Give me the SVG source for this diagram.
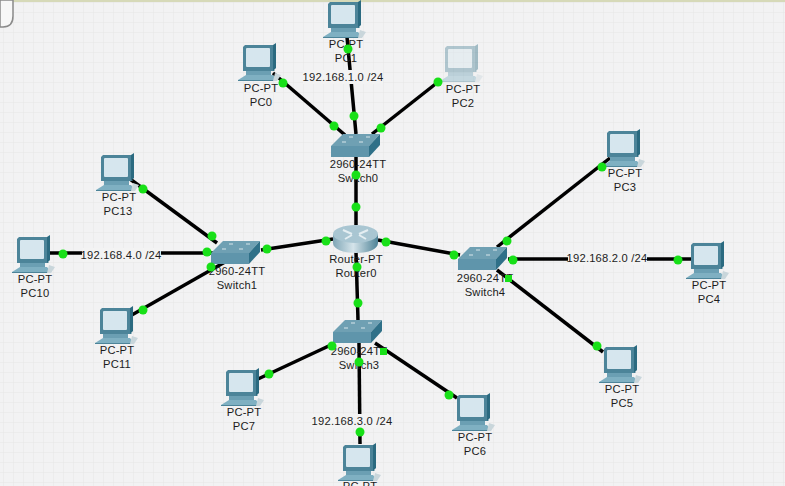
<svg xmlns="http://www.w3.org/2000/svg" width="785" height="486" viewBox="0 0 785 486">
<style>
text{font-family:"Liberation Sans",Arial,sans-serif;font-size:11.2px;letter-spacing:.2px;fill:#1c1c1c;text-anchor:middle}
.l{stroke:#000;stroke-width:3.5;fill:none;stroke-linecap:butt}
.d{fill:#18e018}
.b{fill:#f3f3f3}
</style>
<defs>
<pattern id="grid" width="10" height="10" patternUnits="userSpaceOnUse" x="3" y="2">
<rect width="10" height="10" fill="#f2f2f3"/>
<path d="M0 0H10M0 0V10" stroke="#e6e6e6" stroke-width="1" fill="none"/>
</pattern>
<linearGradient id="rg" x1="0" x2="1" y1="0" y2="0">
<stop offset="0" stop-color="#7fa6b6"/><stop offset=".45" stop-color="#d5e4ea"/><stop offset="1" stop-color="#4d8296"/>
</linearGradient>
<g id="pc">
<path d="M0 2L2 0H30V24L32 26H0Z" fill="#4c8499"/>
<path d="M30 0L33 -2V23L30 26Z" fill="#2b6a80"/>
<rect x="3" y="3" width="24" height="19" rx="1" fill="#d6e6ee"/>
<path d="M3 26H28V30H3Z" fill="#6b9fb3"/>
<path d="M3 30H30L34 35H-5Z" fill="#7fb0c2"/>
<path d="M-5 35H34V36H-5Z" fill="#4c8499"/>
<path d="M32 28L38 30L34 36H30Z" fill="#c9d6db"/>
</g>
<g id="sw">
<path d="M12 0H49L38 12H0Z" fill="#6fa0b3"/>
<path d="M0 12H38V23H0Z" fill="#5f95ab"/>
<path d="M38 12L49 0V11L38 23Z" fill="#2f7088"/>
<path d="M11 8h4M28 8h4M18 3h4M35 3h4" stroke="#d8e6eb" stroke-width="1"/>
</g>
</defs>
<rect width="785" height="486" fill="url(#grid)"/>
<rect width="785" height="2" fill="#d6d9b8"/>
<path d="M0 0H13V16Q13 27 3 27H0Z" fill="#f7f7f7" stroke="#8a8a8a" stroke-width="1.500"/>
<g id="connectors">
<path class="l" d="M273 73L345 135"/>
<path class="l" d="M347 37L356 134"/>
<path class="l" d="M438 82L372 134"/>
<path class="l" d="M356 157V225"/>
<path class="l" d="M261 250L333 239"/>
<path class="l" d="M378 240L460 255"/>
<path class="l" d="M356 252L358 320"/>
<path class="l" d="M333 344L258 379"/>
<path class="l" d="M359 343L360 444"/>
<path class="l" d="M375 343L457 398"/>
<path class="l" d="M497 247L610 158"/>
<path class="l" d="M508 259H692"/>
<path class="l" d="M497 270L603 352"/>
<path class="l" d="M217 243L130 179"/>
<path class="l" d="M50 253H215"/>
<path class="l" d="M130 316L225 262"/>
</g>
<g id="PC0"><use href="#pc" x="243" y="45"/><text x="261" y="92">PC-PT</text><text x="261" y="106">PC0</text></g>
<g id="PC1"><use href="#pc" x="328" y="2"/><text x="346" y="48">PC-PT</text><text x="346" y="62">PC1</text></g>
<g id="PC2"><use href="#pc" x="445" y="46" opacity=".4"/><text x="463" y="93">PC-PT</text><text x="463" y="107">PC2</text></g>
<g id="PC3"><use href="#pc" x="607" y="131"/><text x="625" y="177">PC-PT</text><text x="625" y="191">PC3</text></g>
<g id="PC4"><use href="#pc" x="691" y="243"/><text x="709" y="289">PC-PT</text><text x="709" y="303">PC4</text></g>
<g id="PC5"><use href="#pc" x="604" y="347"/><text x="622" y="393">PC-PT</text><text x="622" y="407">PC5</text></g>
<g id="PC6"><use href="#pc" x="457" y="395"/><text x="475" y="441">PC-PT</text><text x="475" y="455">PC6</text></g>
<g id="PC7"><use href="#pc" x="226" y="370"/><text x="244" y="416">PC-PT</text><text x="244" y="430">PC7</text></g>
<g id="PC8"><use href="#pc" x="343" y="445"/><text x="360" y="490">PC-PT</text></g>
<g id="PC10"><use href="#pc" x="17" y="237"/><text x="35" y="283">PC-PT</text><text x="35" y="297">PC10</text></g>
<g id="PC11"><use href="#pc" x="100" y="308"/><text x="117" y="354">PC-PT</text><text x="117" y="368">PC11</text></g>
<g id="PC13"><use href="#pc" x="101" y="155"/><text x="119" y="201">PC-PT</text><text x="118" y="215">PC13</text></g>
<g id="Switch0"><use href="#sw" x="331" y="134"/><text x="358" y="168">2960-24TT</text><text x="358" y="182">Switch0</text></g>
<g id="Switch1"><use href="#sw" x="211" y="241"/><text x="237" y="275">2960-24TT</text><text x="237" y="289">Switch1</text></g>
<g id="Switch3"><use href="#sw" x="333" y="320"/><text x="359" y="355">2960-24TT</text><text x="359" y="369">Switch3</text></g>
<g id="Switch4"><use href="#sw" x="458" y="247"/><text x="485" y="282">2960-24TT</text><text x="485" y="296">Switch4</text></g>
<g id="Router0">
<path d="M333 234V243C333 249 343 253 356 253S378 249 378 243V234Z" fill="url(#rg)"/>
<ellipse cx="355.500" cy="234" rx="22.500" ry="9" fill="#a9c6d2"/>
<path d="M343 230L352 234M368 230L359 234M345 239L352 235M366 239L359 235" stroke="#e4eef2" stroke-width="2"/>
<text x="356" y="263">Router-PT</text><text x="356" y="277">Router0</text>
</g>
<g id="labels">
<rect class="b" x="303" y="70" width="80" height="14"/><text x="343" y="81">192.168.1.0 /24</text>
<rect class="b" x="82" y="248" width="79" height="14"/><text x="121" y="259">192.168.4.0 /24</text>
<rect class="b" x="568" y="251" width="79" height="14"/><text x="607" y="262">192.168.2.0 /24</text>
<rect class="b" x="312" y="414" width="80" height="14"/><text x="352" y="425">192.168.3.0 /24</text>
</g>
<g id="ports">
<circle class="d" cx="283" cy="83" r="4.500"/><circle class="d" cx="334" cy="126" r="4.500"/>
<circle class="d" cx="348" cy="49" r="4.500"/><circle class="d" cx="354" cy="116" r="4.500"/>
<circle class="d" cx="438" cy="82" r="4.500"/><circle class="d" cx="381" cy="128" r="4.500"/>
<circle class="d" cx="356" cy="175" r="4.500"/><circle class="d" cx="356" cy="207" r="4.500"/>
<circle class="d" cx="267" cy="249" r="4.500"/><circle class="d" cx="326" cy="241" r="4.500"/>
<circle class="d" cx="386" cy="242" r="4.500"/><circle class="d" cx="454" cy="255" r="4.500"/>
<circle class="d" cx="357" cy="267" r="4.500"/><circle class="d" cx="358" cy="303" r="4.500"/>
<circle class="d" cx="332" cy="346" r="4.500"/><circle class="d" cx="269" cy="374" r="4.500"/>
<circle class="d" cx="359" cy="362" r="4.500"/><circle class="d" cx="360" cy="432" r="4.500"/>
<rect class="d" x="380" y="348" width="7" height="7"/><circle class="d" cx="449" cy="395" r="4.500"/>
<circle class="d" cx="507" cy="241" r="4.500"/><circle class="d" cx="602" cy="167" r="4.500"/>
<circle class="d" cx="513" cy="260" r="4.500"/><circle class="d" cx="678" cy="260" r="4.500"/>
<rect class="d" x="505" y="275" width="7" height="7"/><circle class="d" cx="597" cy="346" r="4.500"/>
<circle class="d" cx="212" cy="236" r="4.500"/><circle class="d" cx="143" cy="189" r="4.500"/>
<circle class="d" cx="207" cy="252" r="4.500"/><circle class="d" cx="63" cy="254" r="4.500"/>
<circle class="d" cx="211" cy="267" r="4.500"/><circle class="d" cx="143" cy="310" r="4.500"/>
</g>
</svg>
